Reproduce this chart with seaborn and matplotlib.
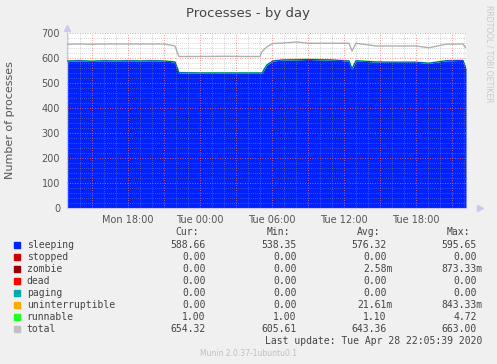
import numpy as np
import pandas as pd
import seaborn as sns
import matplotlib.pyplot as plt
from matplotlib.ticker import MultipleLocator

# hours since Mon 00:00
hours = [12.92, 14.0, 15.0, 16.0, 17.0, 18.0, 19.0, 20.0, 21.0, 21.5, 21.92,
         22.25, 24.0, 26.0, 28.0, 29.0, 29.17, 29.58, 30.08, 30.92, 32.08,
         33.0, 34.0, 35.0, 36.42, 36.67, 37.0, 38.67, 40.0, 42.0, 43.08,
         44.5, 45.92, 46.17]
sleeping = [588, 589, 587, 589, 588, 589, 588, 589, 588, 586, 584,
            541, 540, 540, 540, 540, 540, 572, 588, 592, 593,
            594, 593, 592, 588, 556, 589, 584, 583, 583, 579,
            589, 590, 558]
runnable = [1.0, 1.2, 1.0, 1.1, 1.0, 1.0, 1.3, 1.0, 1.0, 1.0, 1.1,
            1.0, 1.0, 1.0, 1.0, 1.0, 1.0, 1.2, 1.0, 1.4, 1.0,
            1.0, 1.1, 1.0, 1.0, 1.0, 1.0, 1.0, 1.2, 1.0, 1.0,
            1.0, 1.0, 1.0]
total = [655, 656, 655, 656, 656, 656, 656, 656, 656, 652, 648,
         606, 606, 607, 606, 606, 625, 645, 658, 660, 664,
         659, 659, 659, 659, 628, 659, 648, 648, 648, 641,
         655, 656, 640]

tick_hours = [18, 24, 30, 36, 42]
tick_labels = ['Mon 18:00', 'Tue 00:00', 'Tue 06:00', 'Tue 12:00', 'Tue 18:00']

legend_names = ['sleeping', 'stopped', 'zombie', 'dead', 'paging',
                'uninterruptible', 'runnable', 'total']
legend_colors = ['#0022ff', '#cc0000', '#990000', '#ff0000', '#00aaaa',
                 '#ffaa00', '#22ff22', '#c0c0c0']
cur = ['588.66', '0.00', '0.00', '0.00', '0.00', '0.00', '1.00', '654.32']
mins = ['538.35', '0.00', '0.00', '0.00', '0.00', '0.00', '1.00', '605.61']
avgs = ['576.32', '0.00', '2.58m', '0.00', '0.00', '21.61m', '1.10', '643.36']
maxs = ['595.65', '0.00', '873.33m', '0.00', '0.00', '843.33m', '4.72', '663.00']

df = pd.DataFrame({'hour': hours, 'sleeping': sleeping,
                   'runnable': runnable, 'total': total})
df['run_top'] = df['sleeping'] + df['runnable']

sns.set_theme(style='white')
plt.rcParams['font.family'] = ['DejaVu Sans']

W, H = 497, 364
fig = plt.figure(figsize=(W / 100, H / 100), dpi=100, facecolor='#f0f0f0')


def fx(px):
    return px / W


def fy(py):
    return 1 - py / H


ax = fig.add_axes([fx(67), fy(208), 399 / W, 175 / H])
ax.set_facecolor('white')

ax.fill_between(df['hour'], 0, df['sleeping'], color='#0022ff', lw=0, zorder=2)
ax.fill_between(df['hour'], df['sleeping'], df['run_top'], color='#22ff22',
                lw=0, zorder=2)
sns.lineplot(data=df, x='hour', y='run_top', color='#22ff22', lw=1.0,
             ax=ax, zorder=3)
sns.lineplot(data=df, x='hour', y='sleeping', color='#0022ff', lw=0.6,
             ax=ax, zorder=3)
sns.lineplot(data=df, x='hour', y='total', color='#b0b0b0', lw=1.0,
             ax=ax, zorder=3)

ax.set_xlim(12.92, 46.17)
ax.set_ylim(0, 700)

# grid drawn over data like rrdtool
for h in np.arange(13, 47, 1):
    if h % 3 == 0:
        ax.axvline(h, color='#ff7070', lw=0.6, ls=(0, (1, 2)), zorder=5)
    else:
        ax.axvline(h, color='#9a9aa0', lw=0.5, ls=(0, (1, 2)), alpha=0.8, zorder=4)
for v in np.arange(20, 701, 20):
    if v % 100 == 0:
        ax.axhline(v, color='#ff7070', lw=0.6, ls=(0, (1, 2)), zorder=5)
    else:
        ax.axhline(v, color='#9a9aa0', lw=0.5, ls=(0, (1, 2)), alpha=0.8, zorder=4)

ax.set_xticks(tick_hours)
ax.set_xticklabels(tick_labels)
ax.yaxis.set_major_locator(MultipleLocator(100))
ax.yaxis.set_minor_locator(MultipleLocator(20))
ax.tick_params(axis='both', which='major', labelsize=7, colors='#555555',
               length=2, width=0.6, pad=3)
ax.tick_params(axis='both', which='minor', length=1.5, width=0.5,
               colors='#bbbbbb')
ax.tick_params(axis='x', which='major', colors='#ff7070', labelcolor='#555555')
ax.tick_params(axis='y', which='major', colors='#ff7070', labelcolor='#555555')
ax.set_xlabel('')
ax.set_ylabel('')
for s in ['top', 'right']:
    ax.spines[s].set_visible(False)
for s in ['left', 'bottom']:
    ax.spines[s].set_color('#c8c8f0')
    ax.spines[s].set_linewidth(0.8)
# axis arrows
ax.plot([0], [1.03], marker='^', ms=4, color='#c8c8f0', transform=ax.transAxes,
        clip_on=False)
ax.plot([1.035], [0], marker='>', ms=4, color='#c8c8f0', transform=ax.transAxes,
        clip_on=False)

fig.text(fx(248), fy(13), 'Processes - by day', ha='center', va='center',
         fontsize=9.5, color='#444444')
fig.text(fx(10), fy(120), 'Number of processes', ha='center', va='center',
         rotation=90, fontsize=8, color='#555555')
fig.text(fx(489), fy(5), 'RRDTOOL / TOBI OETIKER', ha='center', va='top',
         rotation=270, fontsize=5.5, color='#c8c8c8')

mono = 'DejaVu Sans Mono'
fs = 7
cw = 5.83
col_right = [205.7, 296.7, 386.7, 476.7]
headers = ['Cur:', 'Min:', 'Avg:', 'Max:']
for hdr, xr in zip(headers, col_right):
    fig.text(fx(xr - 6.5), fy(232.5), hdr, ha='right', va='center',
             family=mono, fontsize=fs, color='#444444')

row_y = [245, 257, 269, 281, 293, 305, 317, 329]
for i, name in enumerate(legend_names):
    y = row_y[i]
    fig.patches.append(plt.Rectangle((fx(14), fy(y + 3)), 6 / W, 6 / H,
                                     transform=fig.transFigure,
                                     color=legend_colors[i]))
    fig.text(fx(26.7), fy(y), name, ha='left', va='center', family=mono,
             fontsize=fs, color='#444444')
    for vals, xr in zip([cur, mins, avgs, maxs], col_right):
        s = vals[i]
        xx = xr + cw if s.endswith('m') else xr
        fig.text(fx(xx), fy(y), s, ha='right', va='center', family=mono,
                 fontsize=fs, color='#444444')

fig.text(fx(482.7), fy(341), 'Last update: Tue Apr 28 22:05:39 2020',
         ha='right', va='center', family=mono, fontsize=fs, color='#444444')
fig.text(fx(248), fy(353), 'Munin 2.0.37-1ubuntu0.1', ha='center',
         va='center', fontsize=5.5, color='#c0c0c0')

fig.savefig('out.png', dpi=100, facecolor=fig.get_facecolor())
